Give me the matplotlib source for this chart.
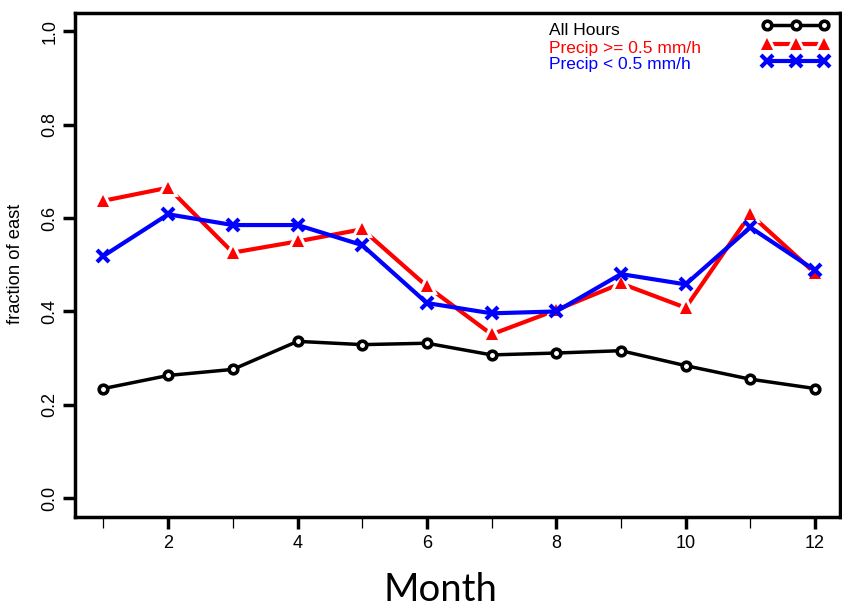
import matplotlib
matplotlib.use("Agg")
import matplotlib.pyplot as plt
from matplotlib.lines import Line2D
from matplotlib.ticker import FixedLocator

# Monthly fraction of easterly winds
months = [1, 2, 3, 4, 5, 6, 7, 8, 9, 10, 11, 12]
all_hours = [0.235, 0.263, 0.276, 0.336, 0.329, 0.332, 0.307, 0.311, 0.316, 0.284, 0.255, 0.235]
precip_high = [0.637, 0.665, 0.526, 0.550, 0.576, 0.454, 0.351, 0.403, 0.460, 0.408, 0.608, 0.482]
precip_low = [0.519, 0.608, 0.585, 0.585, 0.542, 0.418, 0.396, 0.400, 0.480, 0.458, 0.580, 0.488]

series_labels = ["All Hours", "Precip >= 0.5 mm/h", "Precip < 0.5 mm/h"]
y_ticks = [0.0, 0.2, 0.4, 0.6, 0.8, 1.0]
x_major = [2, 4, 6, 8, 10, 12]
x_minor = [1, 3, 5, 7, 9, 11]

W, H = 842, 609
fig = plt.figure(figsize=(W / 100, H / 100), dpi=100)
fig.patch.set_facecolor("white")

L, R, T, B = 75, 840, 12.5, 517
ax = fig.add_axes([L / W, 1 - B / H, (R - L) / W, (B - T) / H])
ax.set_xlim(0.5594, 12.3865)
ax.set_ylim(-0.04, 1.04)

BLACK, RED, BLUE = "black", "#ff0000", "#0000ff"

circ = dict(marker="o", markersize=6.2, markeredgewidth=2.6,
            markerfacecolor="white", markeredgecolor=BLACK)
tri = dict(marker="^", markersize=8.6, markeredgewidth=0)
tri_halo = dict(marker="^", markersize=8.6, markeredgewidth=4.4,
                markeredgecolor="white", markerfacecolor="white")
cross = dict(marker="x", markersize=8.4, markeredgewidth=3.0)

# All hours
ax.plot(months, all_hours, color=BLACK, lw=2.5, solid_capstyle="butt", zorder=3, **circ)
# Precipitating hours: line broken around each point
ax.plot(months, precip_high, color=RED, lw=3.0, solid_capstyle="butt", zorder=4)
ax.plot(months, precip_high, ls="none", zorder=4.1, **tri_halo)
ax.plot(months, precip_high, ls="none", color=RED, zorder=4.2, **tri)
# Non-precipitating hours
ax.plot(months, precip_low, color=BLUE, lw=3.0, solid_capstyle="butt", zorder=5,
        markeredgecolor=BLUE, **cross)

# Axes frame and ticks
for s in ax.spines.values():
    s.set_linewidth(2.5)
ax.set_yticks(y_ticks)
ax.set_yticklabels([f"{v:.1f}" for v in y_ticks])
ax.xaxis.set_major_locator(FixedLocator(x_major))
ax.xaxis.set_minor_locator(FixedLocator(x_minor))
ax.set_xticklabels([str(m) for m in x_major])
ax.tick_params(axis="both", which="major", direction="out", length=8.8, width=2.5)
ax.tick_params(axis="x", which="minor", direction="out", length=8.0, width=0.9)
ax.tick_params(axis="y", pad=3)
ax.tick_params(axis="x", pad=4)

tick_font = ["Liberation Sans Narrow", "Liberation Sans", "DejaVu Sans"]
for lab in ax.get_yticklabels():
    lab.set_family(tick_font)
    lab.set_fontsize(13)
    lab.set_rotation(90)
    lab.set_va("center")
for lab in ax.get_xticklabels():
    lab.set_family(tick_font)
    lab.set_fontsize(13)

fig.text(16 / W, 1 - 264 / H, "fraction of east", rotation=90, ha="center",
         va="center", fontsize=13.2, family=["Liberation Sans", "DejaVu Sans"])
fig.text(440 / W, 1 - 601 / H, "Month", ha="center", va="baseline",
         fontsize=27.5, family=["Lato", "Open Sans", "DejaVu Sans"])


# Legend, drawn in pixel positions of the figure
def fx(px):
    return px / W


def fy(py):
    return 1 - py / H


legend_font = ["Liberation Sans", "DejaVu Sans"]
for text, col, base in zip(series_labels, [BLACK, RED, BLUE], [34.7, 52.5, 68.5]):
    fig.text(fx(549.3), fy(base), text, color=col, fontsize=12.5, va="baseline",
             ha="left", family=legend_font)

kx = [fx(767), fx(796), fx(824)]
row1 = [fy(25)] * 3
row2 = [fy(43.5)] * 3
row3 = [fy(61)] * 3
fig.add_artist(Line2D(kx, row1, transform=fig.transFigure, color=BLACK, lw=2.5, **circ))
fig.add_artist(Line2D(kx, row2, transform=fig.transFigure, color=RED, lw=3.0, solid_capstyle="butt"))
fig.add_artist(Line2D(kx, row2, transform=fig.transFigure, ls="none", **tri_halo))
fig.add_artist(Line2D(kx, row2, transform=fig.transFigure, ls="none", color=RED, **tri))
fig.add_artist(Line2D(kx, row3, transform=fig.transFigure, color=BLUE, lw=3.0,
                      markeredgecolor=BLUE, **cross))

fig.savefig("out.png", dpi=100, facecolor="white")
